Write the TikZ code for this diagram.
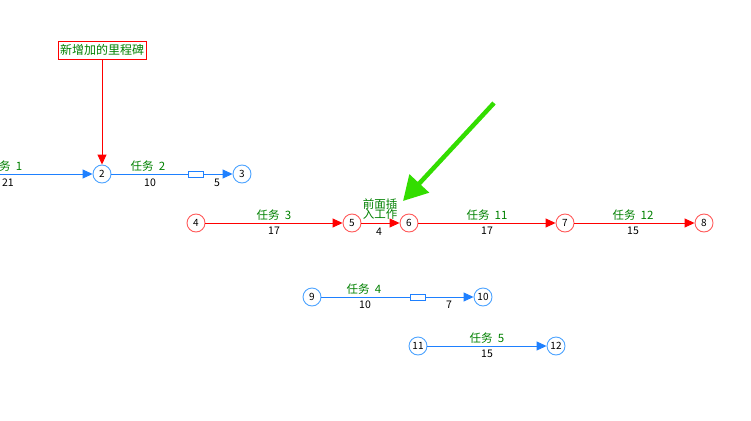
\documentclass[tikz,border=0pt]{standalone}
\usepackage{fontspec}
\setmainfont{Noto Sans CJK SC}
\usetikzlibrary{arrows.meta}
\definecolor{eblue}{HTML}{1E80FF}
\definecolor{cblue}{HTML}{4DA3FF}
\definecolor{ered}{HTML}{FF0000}
\definecolor{cred}{HTML}{FF5A5A}
\definecolor{tgreen}{HTML}{008000}
\definecolor{bgreen}{HTML}{33DD00}
\begin{document}
\begin{tikzpicture}[x=1pt,y=-1pt,
  ev/.style={circle,draw,line width=0.9pt,minimum size=18pt,inner sep=0pt,font=\fontsize{10}{10}\selectfont},
  evb/.style={ev,draw=cblue},
  evr/.style={ev,draw=cred},
  tip/.style={-{Triangle[length=10pt,width=9pt]}},
  bl/.style={draw=eblue,line width=0.9pt},
  rl/.style={draw=ered,line width=0.9pt},
  lab/.style={text=tgreen,font=\fontsize{11.5}{11.5}\selectfont,inner sep=0pt},
  num/.style={font=\fontsize{10.5}{10.5}\selectfont,inner sep=0pt},
  fl/.style={draw=eblue,line width=0.8pt,minimum width=15pt,minimum height=6pt,inner sep=0pt,fill=white}]
\useasboundingbox (0,0) rectangle (751,420);
% nodes
\node[evb] (n2) at (102,174) {2};
\node[evb] (n3) at (242,174) {3};
\node[evr] (n4) at (196,223) {4};
\node[evr] (n5) at (352,223) {5};
\node[evr] (n6) at (409,223) {6};
\node[evr] (n7) at (565,223) {7};
\node[evr] (n8) at (704,223) {8};
\node[evb] (n9) at (312,297) {9};
\node[evb] (n10) at (483,297) {10};
\node[evb] (n11) at (418,346) {11};
\node[evb] (n12) at (556,346) {12};
\coordinate (s1) at (-2,174);
% milestone
\node[draw=ered,line width=0.8pt,inner xsep=2pt,inner ysep=2pt,text=tgreen,font=\fontsize{12}{12}\selectfont,minimum height=18pt] (ms) at (102,50) {新增加的里程碑};
\draw[rl,tip,color=ered] (ms.south) -- (n2.north);
% task 1
\draw[bl,tip,color=eblue] (s1) -- (n2);
\node[lab] (t1) at (5,166) {任务\ \ 1};
\node[num] (d1) at (8,183) {21};
% task 2
\node[fl] (f2) at (195.5,174) {};
\draw[bl] (n2) -- (f2);
\draw[bl,tip,color=eblue] (f2) -- (n3);
\node[lab] (t2) at (148,166) {任务\ \ 2};
\node[num] (d2) at (150,183) {10};
\node[num] (d2b) at (217,183) {5};
% red chain
\draw[rl,tip,color=ered] (n4) -- (n5);
\node[lab] (t3) at (274,215) {任务\ \ 3};
\node[num] (d3) at (274,231) {17};
\draw[rl,tip,color=ered] (n5) -- (n6);
\node[num] (d56) at (379,232) {4};
\node[lab,align=center] (ins) at (380,209) {前面插\\[-2pt]入工作};
\draw[rl,tip,color=ered] (n6) -- (n7);
\node[lab] (t11) at (487,215) {任务\ \ 11};
\node[num] (d11) at (487,231) {17};
\draw[rl,tip,color=ered] (n7) -- (n8);
\node[lab] (t12) at (633,215) {任务\ \ 12};
\node[num] (d12) at (633,231) {15};
% task 4
\node[fl] (f4) at (418,297) {};
\draw[bl] (n9) -- (f4);
\draw[bl,tip,color=eblue] (f4) -- (n10);
\node[lab] (t4) at (364,289) {任务\ \ 4};
\node[num] (d4) at (365,305) {10};
\node[num] (d4b) at (449,305) {7};
% task 5
\draw[bl,tip,color=eblue] (n11) -- (n12);
\node[lab] (t5) at (487,338) {任务\ \ 5};
\node[num] (d5) at (487,354) {15};
% green arrow
\coordinate (ga) at (494,103);
\coordinate (gb) at (403,201);
\draw[draw=bgreen,fill=bgreen,line width=4.5pt,-{Triangle[length=24pt,width=26pt]}] (ga) -- (gb);
\end{tikzpicture}
\end{document}
